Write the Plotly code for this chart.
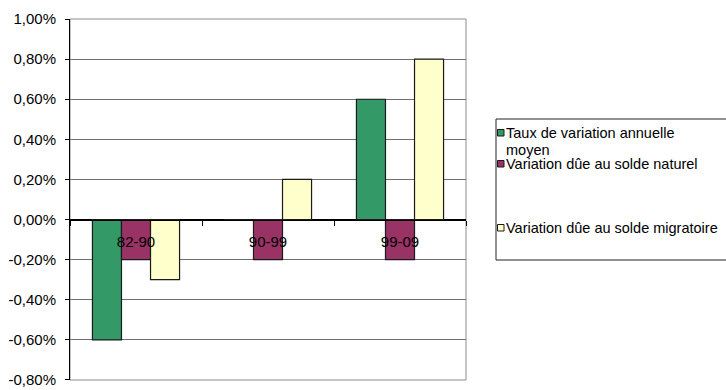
import plotly.graph_objects as go

# Periods and annual variation rates (fractions)
periods = ["82-90", "90-99", "99-09"]
taux_annuel = [-0.006, 0.0, 0.006]
solde_naturel = [-0.002, -0.002, -0.002]
solde_migratoire = [-0.003, 0.002, 0.008]

# Legend entries: each is a list of wrapped lines
series_names = [
    ["Taux de variation annuelle", "moyen"],
    ["Variation dûe au solde naturel"],
    ["Variation dûe au solde migratoire"],
]
series_colors = ["#339966", "#993366", "#FFFFCC"]

tick_values = [-0.008, -0.006, -0.004, -0.002, 0.0, 0.002, 0.004, 0.006, 0.008, 0.010]
tick_labels = ["-0,80%", "-0,60%", "-0,40%", "-0,20%", "0,00%",
               "0,20%", "0,40%", "0,60%", "0,80%", "1,00%"]

W, H = 726, 390
L, R, T, B = 70, 260, 19, 10
plot_w = W - L - R
plot_h = H - T - B


def px(x):
    return (x - L) / plot_w


def py(y):
    return (H - B - y) / plot_h


FONT = "Liberation Sans, Arial, sans-serif"

fig = go.Figure()
for vals, name, col in zip([taux_annuel, solde_naturel, solde_migratoire],
                           series_names, series_colors):
    fig.add_trace(go.Bar(
        x=periods, y=vals, name=" ".join(name), showlegend=False,
        marker=dict(color=col, line=dict(color="#1a1a1a", width=1.2)),
    ))

y_min, y_max = -0.008, 0.010
eps = 1e-6

fig.update_layout(
    width=W, height=H,
    margin=dict(l=L, r=R, t=T, b=B, pad=0),
    paper_bgcolor="white", plot_bgcolor="white",
    barmode="group", bargap=0.34, bargroupgap=0,
    font=dict(family=FONT, size=15, color="black"),
    xaxis=dict(
        type="category",
        anchor="free",
        position=(0 - y_min) / (y_max - y_min),
        showline=True, linecolor="black", linewidth=1,
        ticks="outside", tickson="boundaries", ticklen=5,
        tickcolor="black", tickwidth=1,
        showgrid=False,
        tickfont=dict(family=FONT, size=15, color="black"),
        ticklabelstandoff=8,
    ),
    yaxis=dict(
        range=[y_min - eps, y_max + eps],
        tickvals=tick_values, ticktext=tick_labels,
        showgrid=True, gridcolor="#6e6e6e", gridwidth=1,
        zeroline=True, zerolinecolor="black", zerolinewidth=1,
        showline=True, linecolor="black", linewidth=1,
        ticks="outside", ticklen=4, tickcolor="black",
        tickfont=dict(family=FONT, size=15, color="black"),
        ticklabelstandoff=6,
        automargin=False,
    ),
)

# Plot-area frame
fig.add_shape(type="rect", xref="paper", yref="paper", x0=0, x1=1, y0=0, y1=1,
              line=dict(color="#8c8c8c", width=1), layer="below")

# Legend box and entries
fig.add_shape(type="rect", xref="paper", yref="paper",
              x0=px(496), x1=px(740), y0=py(260), y1=py(119),
              line=dict(color="#222222", width=1), fillcolor="white")

legend_rows = [133, 164, 228]
line_step = 17
for lines, col, yc in zip(series_names, series_colors, legend_rows):
    fig.add_shape(type="rect", xref="paper", yref="paper",
                  x0=px(497.5), x1=px(504), y0=py(yc + 3), y1=py(yc - 3.5),
                  line=dict(color="#1a1a1a", width=1), fillcolor=col)
    for i, line in enumerate(lines):
        fig.add_annotation(xref="paper", yref="paper",
                           x=px(505), y=py(yc + i * line_step),
                           xanchor="left", yanchor="middle", align="left",
                           text=line, showarrow=False, borderpad=0,
                           font=dict(family=FONT, size=14.5, color="black"))

fig.write_html("out.html")
